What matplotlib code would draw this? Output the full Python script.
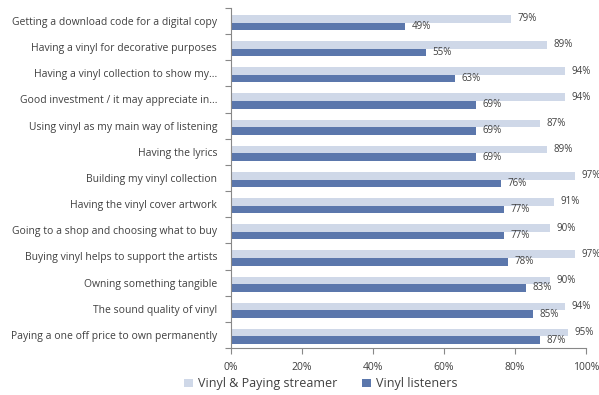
import matplotlib
matplotlib.use("Agg")
import matplotlib.pyplot as plt
import numpy as np
from matplotlib.ticker import FixedLocator, PercentFormatter

categories = [
    "Getting a download code for a digital copy",
    "Having a vinyl for decorative purposes",
    "Having a vinyl collection to show my...",
    "Good investment / it may appreciate in...",
    "Using vinyl as my main way of listening",
    "Having the lyrics",
    "Building my vinyl collection",
    "Having the vinyl cover artwork",
    "Going to a shop and choosing what to buy",
    "Buying vinyl helps to support the artists",
    "Owning something tangible",
    "The sound quality of vinyl",
    "Paying a one off price to own permanently",
]
streamer = [79, 89, 94, 94, 87, 89, 97, 91, 90, 97, 90, 94, 95]
listeners = [49, 55, 63, 69, 69, 69, 76, 77, 77, 78, 83, 85, 87]
series_names = ["Vinyl & Paying streamer", "Vinyl listeners"]

plt.rcParams["font.family"] = ["Open Sans", "DejaVu Sans"]
text_color = "#404040"
light = "#CFD8E8"
dark = "#5B77AC"

fig = plt.figure(figsize=(5.99, 3.95), dpi=100)
ax = fig.add_axes([0.3856, 0.119, 0.5927, 0.861])

y = np.arange(len(categories))
h = 0.29
b1 = ax.barh(y - h / 2 + 0.06, streamer, height=h, color=light, label=series_names[0])
b2 = ax.barh(y + h / 2 + 0.06, listeners, height=h, color=dark, label=series_names[1])

for bars, vals in ((b1, streamer), (b2, listeners)):
    for bar, v in zip(bars, vals):
        ax.text(v + 1.8, bar.get_y() + bar.get_height() / 2, f"{v}%",
                va="center", ha="left", fontsize=7, color=text_color, clip_on=False)

ax.set_xlim(0, 100)
ax.set_ylim(len(categories) - 0.5, -0.5)
ax.xaxis.set_major_locator(FixedLocator([0, 20, 40, 60, 80, 100]))
ax.xaxis.set_major_formatter(PercentFormatter(decimals=0))

ax.set_yticks(y)
ax.set_yticklabels(categories)
ax.yaxis.set_minor_locator(FixedLocator(np.arange(-0.5, len(categories), 1)))
ax.tick_params(axis="y", which="major", length=0, pad=10, labelsize=7.5, labelcolor=text_color)
ax.tick_params(axis="y", which="minor", length=4, color="#888888", width=0.8)
ax.tick_params(axis="x", length=4, color="#888888", width=0.8, labelsize=7.5,
               labelcolor=text_color, pad=6)

for s in ("top", "right"):
    ax.spines[s].set_visible(False)
for s in ("left", "bottom"):
    ax.spines[s].set_color("#888888")
    ax.spines[s].set_linewidth(0.8)

fig.legend(handles=[b1, b2], labels=series_names, loc="center",
           bbox_to_anchor=(0.535, 0.028), ncol=2, frameon=False,
           fontsize=9, handlelength=0.7, handleheight=0.7, handletextpad=0.4,
           columnspacing=2.0, labelcolor=text_color)

fig.savefig("out.png", dpi=100)
